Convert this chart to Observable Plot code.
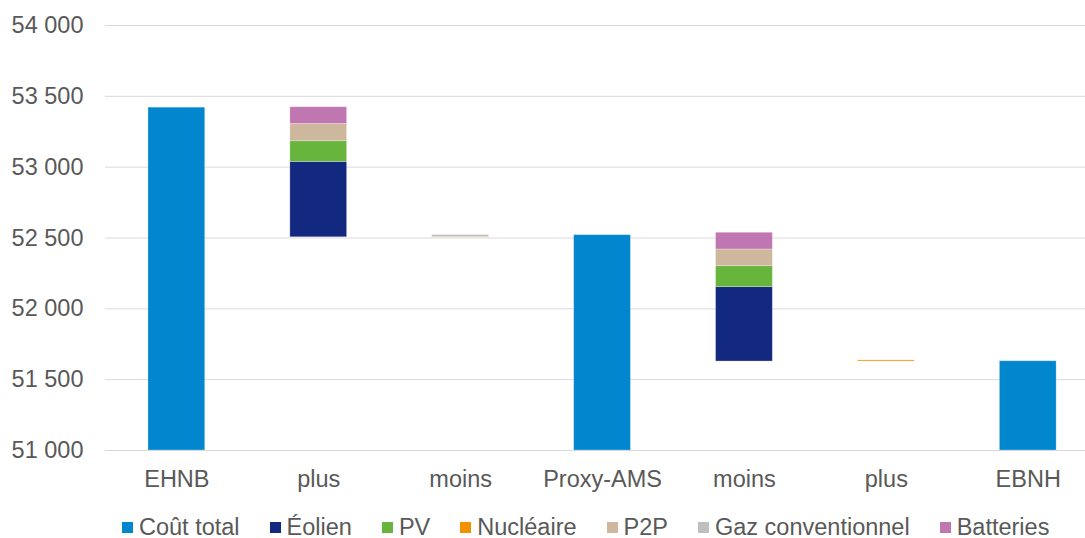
<!DOCTYPE html>
<html>
<head>
<meta charset="utf-8">
<script src="https://cdn.jsdelivr.net/npm/d3@7"></script>
<script src="https://cdn.jsdelivr.net/npm/@observablehq/plot@0.6"></script>
<style>
  html, body { margin: 0; padding: 0; background: #fff; overflow: hidden; }
  #chart { width: 1085px; height: 538px; position: relative; font-family: "Liberation Sans", Arial, sans-serif; color: #595959; }
  #legend { display: flex; align-items: center; padding-left: 122px; font-size: 23.5px; line-height: 21px; height: 21px; white-space: nowrap; }
  #legend .item { display: flex; align-items: center; margin-right: 30px; }
  #legend .sw { width: 11px; height: 11px; margin-right: 6px; }
</style>
</head>
<body>
<div id="chart"></div>
<script>
// Categories (x) — labels repeat, so positions are indexed
const labels = ["EHNB", "plus", "moins", "Proxy-AMS", "moins", "plus", "EBNH"];
// Invisible base of each column
const base = [51000, 52505, 52503, 51000, 51628, 51628, 51000];
// Series segments (stacked above the base), in legend order
const seriesNames = ["Coût total", "Éolien", "PV", "Nucléaire", "P2P", "Gaz conventionnel", "Batteries"];
const coutTotal   = [2420, 0,   0,  1520, 0,   0, 630];
const eolien      = [0,    532, 0,  0,    525, 0, 0];
const pv          = [0,    146, 0,  0,    148, 0, 0];
const nucleaire   = [0,    0,   4,  0,    0,   8, 0];
const p2p         = [0,    122, 0,  0,    118, 0, 0];
const gaz         = [0,    0,   14, 0,    0,   0, 0];
const batteries   = [0,    118, 0,  0,    118, 0, 0];
const seriesColors = ["#0287CF", "#13297F", "#67B53D", "#F39200", "#CDB89E", "#BFBFBF", "#C077B1"];
const yTicks = [51000, 51500, 52000, 52500, 53000, 53500, 54000];

const seriesValues = [coutTotal, eolien, pv, nucleaire, p2p, gaz, batteries];
const rows = [];
labels.forEach((lab, i) => {
  let y = base[i];
  seriesValues.forEach((vals, s) => {
    const v = vals[i];
    if (v > 0) {
      rows.push({i, series: seriesNames[s], y1: y, y2: y + v});
      y += v;
    }
  });
});

const fr = d3.formatLocale({decimal: ",", thousands: " ", grouping: [3], currency: ["", " €"]}).format(",");

const plot = Plot.plot({
  width: 1085,
  height: 517,
  marginLeft: 105,
  marginRight: 0,
  marginTop: 25,
  marginBottom: 67,
  style: {fontFamily: '"Liberation Sans", Arial, sans-serif', fontSize: "23.5px", color: "#595959", background: "#fff"},
  x: {type: "band", domain: d3.range(labels.length), range: [105.4, 1098.7], paddingInner: 0.6, paddingOuter: 0.3, round: false, label: null},
  y: {domain: [51000, 54000], label: null},
  color: {domain: seriesNames, range: seriesColors},
  marks: [
    Plot.gridY(yTicks, {stroke: "#D9D9D9", strokeOpacity: 1, strokeWidth: 1}),
    Plot.barY(rows, {x: "i", y1: "y1", y2: "y2", fill: "series", stroke: "#ffffff", strokeOpacity: 0.35, strokeWidth: 0.75}),
    Plot.ruleY([51000], {stroke: "#D9D9D9", strokeWidth: 1}),
    Plot.axisY(yTicks, {tickSize: 0, tickPadding: 22, tickFormat: fr, fontSize: 23.5, label: null}),
    Plot.axisX({tickSize: 0, tickPadding: 20, tickFormat: i => labels[i], fontSize: 23.5, label: null})
  ]
});

const chart = document.getElementById("chart");
chart.appendChild(plot);

const legend = document.createElement("div");
legend.id = "legend";
seriesNames.forEach((name, s) => {
  const item = document.createElement("div");
  item.className = "item";
  const sw = document.createElement("span");
  sw.className = "sw";
  sw.style.background = seriesColors[s];
  const t = document.createElement("span");
  t.textContent = name;
  item.appendChild(sw);
  item.appendChild(t);
  legend.appendChild(item);
});
chart.appendChild(legend);
</script>
</body>
</html>
